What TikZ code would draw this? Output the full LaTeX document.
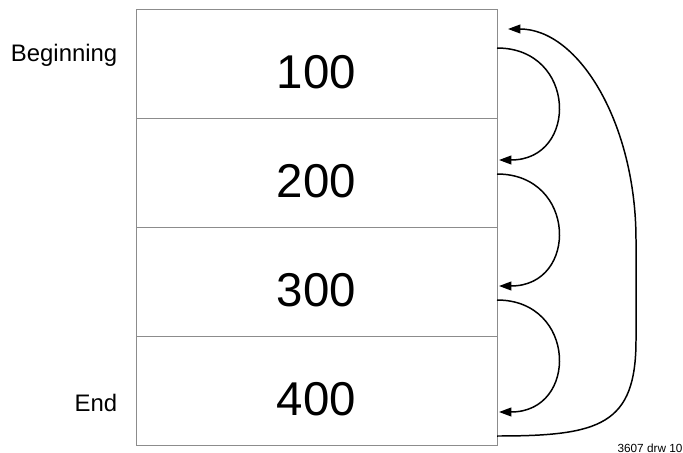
\documentclass[tikz,border=0pt]{standalone}
\usepackage{fontspec}
\setmainfont{Liberation Sans}
\usetikzlibrary{positioning, arrows.meta, calc}

\begin{document}
\begin{tikzpicture}[x=0.02cm, y=-0.02cm, node distance=0cm, line width=0.85pt]
	\tikzstyle{cell} = [draw=gray!90, line width=0.5pt, rectangle, inner sep=0pt, outer sep=0pt, minimum width = 7.22cm, minimum height = 2.18cm, text height=28.3pt, text depth=0pt, font=\fontsize{27}{30}\selectfont];
	\tikzstyle{side} = [font=\fontsize{13.6}{16}\selectfont, inner sep=0pt];
	\tikzstyle{hop} = [-{Triangle[length=7pt, width=5pt]}];
	
	\useasboundingbox (0,0) rectangle (683,453);
	
	\node[cell] (c1) at (316.5,64) {100};
	\node[cell, below = of c1] (c2) {200};
	\node[cell, below = of c2] (c3) {300};
	\node[cell, below = of c3] (c4) {400};
	
	\node[side, anchor=east] (beg) at (118,55) {Beginning};
	\node[side, anchor=east] (end) at (118,403) {End};
	
	\node[font=\fontsize{6.7}{8}\selectfont, inner sep=0pt] (tag) at (650,448) {3607 drw 10};
	
	\def \n {3}
	\foreach \s in {1,...,\n}
	{
		\coordinate (s\s) at (497,{-78+126*\s});
		\coordinate (t\s) at (499,{34+126*\s});
		\draw[hop] (s\s) to [out=0,in=0,looseness=1.82] (t\s);
	}
	
	% back to the top
	\coordinate (s4) at (497,436);
	\coordinate (t0) at (508,29);
	\draw[hop] (s4) .. controls (600,436) and (636,425) .. (636,340)
		-- (636,240) .. controls (636,124) and (579,29) .. (t0);
	
\end{tikzpicture}
\end{document}
